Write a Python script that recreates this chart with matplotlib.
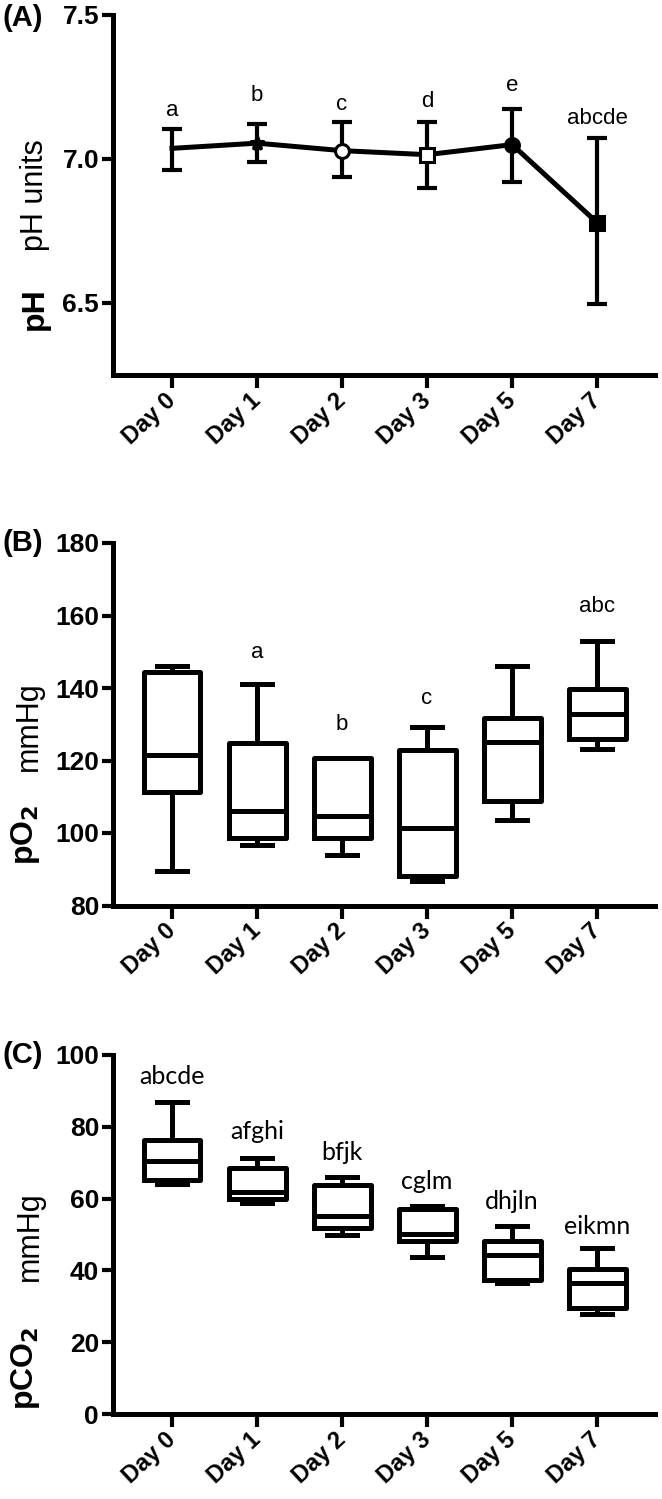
import matplotlib.pyplot as plt
import numpy as np

days = ['Day 0', 'Day 1', 'Day 2', 'Day 3', 'Day 5', 'Day 7']

# panel A: pH mean with error bar limits
ph_mean = [7.037, 7.055, 7.029, 7.015, 7.050, 6.779]
ph_hi = [7.105, 7.122, 7.128, 7.128, 7.174, 7.072]
ph_lo = [6.962, 6.991, 6.938, 6.898, 6.919, 6.497]
ph_letters = ['a', 'b', 'c', 'd', 'e', 'abcde']
ph_letter_y = [7.17, 7.22, 7.19, 7.20, 7.255, 7.14]

# panel B: pO2 box stats (whisker low, q1, median, q3, whisker high)
po2_wlo = [89.5, 96.8, 94.0, 86.8, 103.5, 123.1]
po2_q1 = [111.4, 98.6, 98.6, 88.2, 108.7, 126.0]
po2_med = [121.5, 106.0, 104.6, 101.4, 125.1, 132.9]
po2_q3 = [144.5, 124.9, 120.6, 122.9, 131.6, 139.6]
po2_whi = [146.0, 141.1, 120.6, 129.3, 146.0, 153.0]
po2_letters = ['', 'a', 'b', 'c', '', 'abc']
po2_letter_y = [0, 149.8, 130.0, 137.0, 0, 162.6]

# panel C: pCO2 box stats
pco2_wlo = [64.2, 58.8, 49.8, 43.7, 36.4, 27.8]
pco2_q1 = [65.3, 60.0, 51.9, 48.3, 37.2, 29.6]
pco2_med = [70.4, 61.9, 55.1, 50.2, 44.4, 36.6]
pco2_q3 = [76.4, 68.5, 63.9, 57.1, 48.1, 40.3]
pco2_whi = [87.0, 71.3, 66.0, 57.9, 52.5, 46.3]
pco2_letters = ['abcde', 'afghi', 'bfjk', 'cglm', 'dhjln', 'eikmn']
pco2_letter_y = [94.0, 78.7, 72.9, 64.8, 59.3, 52.3]

plt.rcParams['font.family'] = ['Liberation Sans', 'DejaVu Sans']

H = 1499.0
W = 662.0
fig = plt.figure(figsize=(6.62, 14.99), dpi=100)
x = np.arange(len(days))


def style_axes(ax, ylim, yticks):
    ax.set_xlim(-0.694, 5.68)
    ax.set_ylim(*ylim)
    ax.set_yticks(yticks)
    ax.spines['top'].set_visible(False)
    ax.spines['right'].set_visible(False)
    ax.spines['left'].set_linewidth(3.6)
    ax.spines['bottom'].set_linewidth(3.6)
    ax.tick_params(axis='y', width=3, length=8, pad=2)
    ax.tick_params(axis='x', width=3, length=9, pad=7)
    ax.set_xticks(x)
    ax.set_xticklabels(days, rotation=43, ha='right', va='center',
                       rotation_mode='anchor', fontsize=17, fontweight='bold')
    for lab in ax.get_yticklabels():
        lab.set_fontsize(19)
        lab.set_fontweight('bold')


def axes_at(top_px, bottom_px):
    return fig.add_axes([113 / W, 1 - bottom_px / H, 542 / W, (bottom_px - top_px) / H])


# ---- panel A
axA = axes_at(15, 375)
yerr = [np.array(ph_mean) - np.array(ph_lo), np.array(ph_hi) - np.array(ph_mean)]
axA.errorbar(x, ph_mean, yerr=yerr, color='black', lw=3.6, elinewidth=3,
             capsize=7, capthick=3, zorder=2)
markers = [None, '*', 'o', 's', 'o', 's']
faces = [None, 'black', 'white', 'white', 'black', 'black']
for xi, yi, m, fc in zip(x, ph_mean, markers, faces):
    if m:
        axA.plot(xi, yi, marker=m, ms=10, mfc=fc, mec='black', mew=2.2, zorder=3)
for xi, t, ty in zip(x, ph_letters, ph_letter_y):
    axA.text(xi, ty, t, ha='center', va='center', fontsize=16)
style_axes(axA, (6.25, 7.5), [6.5, 7.0, 7.5])
axA.set_yticklabels(['6.5', '7.0', '7.5'], fontsize=19, fontweight='bold')
fig.text(3 / W, 1 - 18 / H, '(A)', fontsize=21, fontweight='bold', va='center')
fig.text(35 / W, 1 - 309 / H, 'pH', fontsize=23, fontweight='bold',
         rotation=90, ha='center', va='center')
fig.text(35 / W, 1 - 195 / H, 'pH units', fontsize=22,
         rotation=90, ha='center', va='center')


def boxes(ax, wlo, q1, med, q3, whi):
    stats = [dict(whislo=a, q1=b, med=c, q3=d, whishi=e, fliers=[])
             for a, b, c, d, e in zip(wlo, q1, med, q3, whi)]
    lp = dict(color='black', linewidth=3.6)
    ax.bxp(stats, positions=x, widths=0.67, capwidths=0.36, showfliers=False,
           boxprops=lp, whiskerprops=lp, capprops=lp, medianprops=lp,
           manage_ticks=False)


# ---- panel B
axB = axes_at(543, 905.5)
boxes(axB, po2_wlo, po2_q1, po2_med, po2_q3, po2_whi)
for xi, t, ty in zip(x, po2_letters, po2_letter_y):
    axB.text(xi, ty, t, ha='center', va='center', fontsize=16)
style_axes(axB, (80, 180), [80, 100, 120, 140, 160, 180])
fig.text(3 / W, 1 - 543 / H, '(B)', fontsize=21, fontweight='bold', va='center')
fig.text(26 / W, 1 - 835 / H, 'pO$_\\mathbf{2}$', fontsize=23, fontweight='bold',
         rotation=90, ha='center', va='center')
fig.text(29 / W, 1 - 726 / H, 'mmHg', fontsize=22,
         rotation=90, ha='center', va='center')

# ---- panel C
axC = axes_at(1055, 1414)
boxes(axC, pco2_wlo, pco2_q1, pco2_med, pco2_q3, pco2_whi)
for xi, t, ty in zip(x, pco2_letters, pco2_letter_y):
    axC.text(xi, ty, t, ha='center', va='center', fontsize=18, family='Lato')
style_axes(axC, (0, 100), [0, 20, 40, 60, 80, 100])
fig.text(3 / W, 1 - 1055 / H, '(C)', fontsize=21, fontweight='bold', va='center')
fig.text(26 / W, 1 - 1368 / H, 'pCO$_\\mathbf{2}$', fontsize=23, fontweight='bold',
         rotation=90, ha='center', va='center')
fig.text(30 / W, 1 - 1236 / H, 'mmHg', fontsize=22,
         rotation=90, ha='center', va='center')

fig.savefig('out.png', dpi=100)
